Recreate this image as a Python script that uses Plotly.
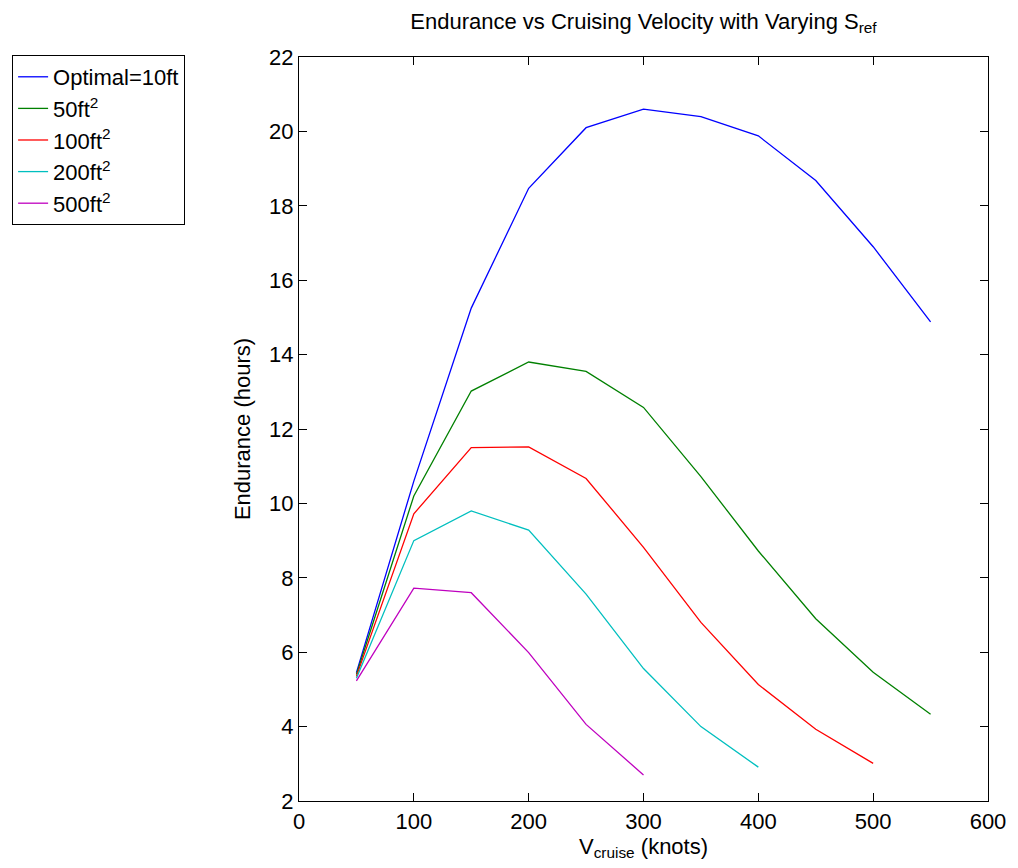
import plotly.graph_objects as go

velocity = [50, 100, 150, 200, 250, 300, 350, 400, 450, 500, 550]

endurance_optimal = [5.45, 10.6, 15.25, 18.47, 20.1, 20.6, 20.4, 19.88, 18.68, 16.9, 14.88]
endurance_50 = [5.4, 10.2, 13.02, 13.8, 13.55, 12.58, 10.72, 8.72, 6.9, 5.46, 4.33]
endurance_100 = [5.35, 9.72, 11.5, 11.52, 10.67, 8.82, 6.8, 5.13, 3.93, 3.01]
endurance_200 = [5.3, 9.0, 9.8, 9.28, 7.56, 5.56, 4.0, 2.91]
endurance_500 = [5.23, 7.72, 7.6, 5.99, 4.06, 2.7]

series = [
    ("Optimal=10ft", endurance_optimal, "#0000FF"),
    ("50ft<sup>2</sup>", endurance_50, "#008000"),
    ("100ft<sup>2</sup>", endurance_100, "#FF0000"),
    ("200ft<sup>2</sup>", endurance_200, "#00BFBF"),
    ("500ft<sup>2</sup>", endurance_500, "#BF00BF"),
]

fig = go.Figure()
for i, (name, ys, color) in enumerate(series):
    fig.add_trace(go.Scatter(
        x=velocity[:len(ys)], y=ys, mode="lines", name=name,
        line=dict(color=color, width=1.3), legendgroup=f"g{i}",
    ))

font_family = "Liberation Sans, Arial, sans-serif"
FS = 22
axis_common = dict(
    showline=True, linecolor="black", linewidth=1.3, mirror="ticks",
    ticks="inside", ticklen=8, tickcolor="black", tickwidth=1,
    showgrid=False, zeroline=False,
    tickfont=dict(family=font_family, size=FS, color="black"),
)

fig.update_layout(
    width=1018, height=868,
    margin=dict(l=297, r=27, t=57, b=67),
    paper_bgcolor="white", plot_bgcolor="white",
    title=dict(
        text="Endurance vs Cruising Velocity with Varying S<sub>ref</sub>",
        x=0.5, xref="paper", xanchor="center", y=0.976, yanchor="middle",
        font=dict(family=font_family, size=FS, color="black"),
    ),
    xaxis=dict(range=[0, 600], dtick=100, tick0=0,
               title=dict(text="V<sub>cruise</sub> (knots)", standoff=2,
                          font=dict(family=font_family, size=FS, color="black")),
               **axis_common),
    yaxis=dict(range=[2, 22], dtick=2, tick0=2,
               title=dict(text="Endurance (hours)", standoff=12,
                          font=dict(family=font_family, size=FS, color="black")),
               **axis_common),
    legend=dict(
        x=-0.4164, y=1.0027, xanchor="left", yanchor="top",
        bordercolor="black", borderwidth=1, bgcolor="white",
        font=dict(family=font_family, size=FS, color="black"),
        tracegroupgap=3, traceorder="normal",
        entrywidth=180, entrywidthmode="pixels",
    ),
    showlegend=True,
)

fig.write_html("out.html")
